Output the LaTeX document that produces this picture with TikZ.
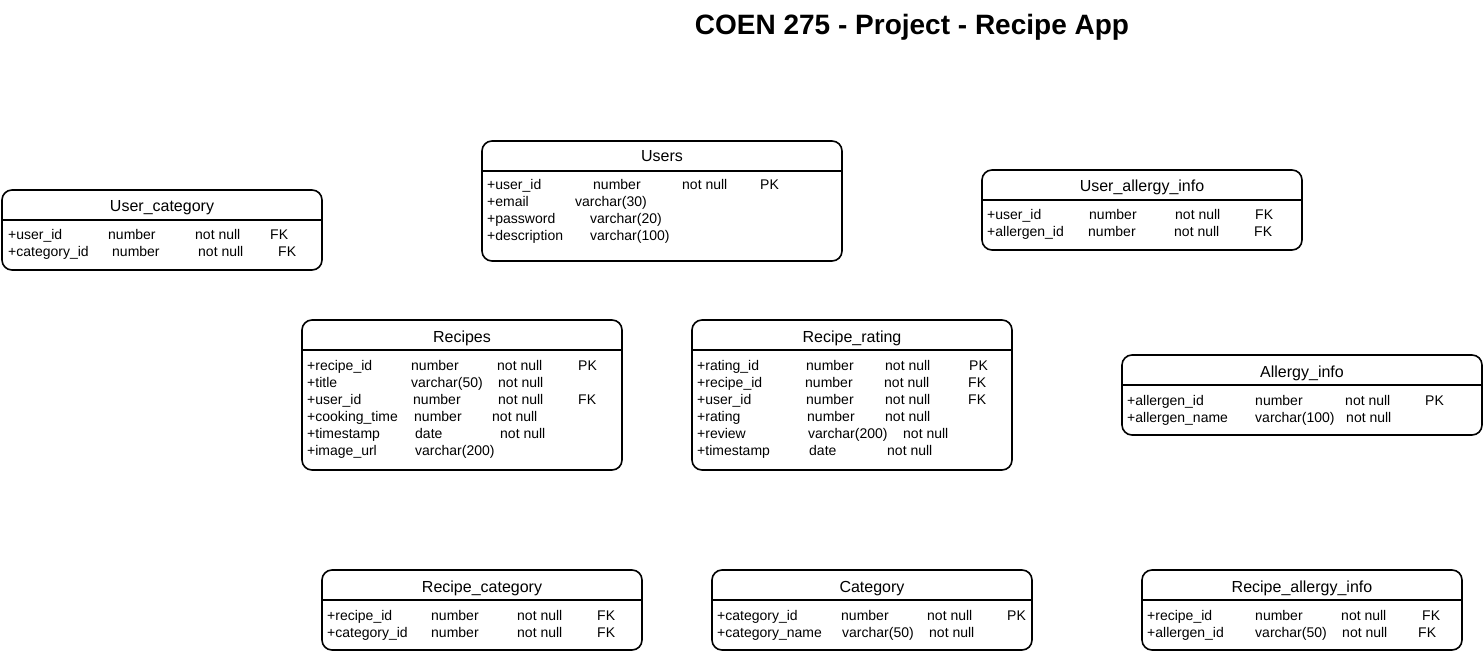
\documentclass[tikz,border=0pt]{standalone}
\usepackage{fontspec}
\setmainfont{Liberation Sans}
\begin{document}
\begin{tikzpicture}[x=1pt,y=-1pt,
  erbox/.style={draw=black, line width=1.6pt, rounded corners=10pt, anchor=north west, inner sep=0pt, outer sep=0pt},
  ertitle/.style={anchor=base, inner sep=0pt, font=\fontsize{16}{19}\selectfont},
  ercell/.style={anchor=base west, inner sep=0pt, font=\fontsize{14}{17}\selectfont},
  erline/.style={line width=1.2pt}]
\useasboundingbox (0,0) rectangle (1483,652);
% heading
\node[anchor=base, inner sep=0pt, font=\fontsize{28}{32}\selectfont\bfseries] (heading) at (912,35) {COEN 275 - Project - Recipe App};
% User_category
\node[erbox, minimum width=320, minimum height=80] (usercat) at (2,190) {};
\draw[erline] ([yshift=-30pt]usercat.north west) -- ([yshift=-30pt]usercat.north east);
\node[ertitle] (usercat-title) at (162,212) {User\_category};
\foreach \cx/\cy/\txt [count=\i] in {8/240/+user\_id, 108/240/number, 195/240/not null, 270/240/FK,
  8/257/+category\_id, 112/257/number, 198/257/not null, 278/257/FK}
  \node[ercell] (usercat-\i) at (\cx,\cy) {\txt};
% Users
\node[erbox, minimum width=360, minimum height=120] (users) at (482,141) {};
\draw[erline] ([yshift=-30pt]users.north west) -- ([yshift=-30pt]users.north east);
\node[ertitle] (users-title) at (662,162) {Users};
\foreach \cx/\cy/\txt [count=\i] in {487/190/+user\_id, 593/190/number, 682/190/not null, 760/190/PK,
  487/207/+email, 575/207/varchar(30),
  487/224/+password, 590/224/varchar(20),
  487/241/+description, 590/241/varchar(100)}
  \node[ercell] (users-\i) at (\cx,\cy) {\txt};
% User_allergy_info
\node[erbox, minimum width=320, minimum height=80] (userall) at (982,170) {};
\draw[erline] ([yshift=-30pt]userall.north west) -- ([yshift=-30pt]userall.north east);
\node[ertitle] (userall-title) at (1142,192) {User\_allergy\_info};
\foreach \cx/\cy/\txt [count=\i] in {987/220/+user\_id, 1089/220/number, 1175/220/not null, 1255/220/FK,
  987/237/+allergen\_id, 1088/237/number, 1174/237/not null, 1254/237/FK}
  \node[ercell] (userall-\i) at (\cx,\cy) {\txt};
% Recipes
\node[erbox, minimum width=320, minimum height=150] (recipes) at (302,320) {};
\draw[erline] ([yshift=-30pt]recipes.north west) -- ([yshift=-30pt]recipes.north east);
\node[ertitle] (recipes-title) at (462,342) {Recipes};
\foreach \cx/\cy/\txt [count=\i] in {307/370/+recipe\_id, 411/370/number, 497/370/not null, 578/370/PK,
  307/387/+title, 411/387/varchar(50), 498/387/not null,
  307/404/+user\_id, 413/404/number, 498/404/not null, 578/404/FK,
  307/421/+cooking\_time, 414/421/number, 492/421/not null,
  307/438/+timestamp, 415/438/date, 500/438/not null,
  307/455/+image\_url, 415/455/varchar(200)}
  \node[ercell] (recipes-\i) at (\cx,\cy) {\txt};
% Recipe_rating
\node[erbox, minimum width=320, minimum height=150] (rating) at (692,320) {};
\draw[erline] ([yshift=-30pt]rating.north west) -- ([yshift=-30pt]rating.north east);
\node[ertitle] (rating-title) at (852,342) {Recipe\_rating};
\foreach \cx/\cy/\txt [count=\i] in {697/370/+rating\_id, 806/370/number, 885/370/not null, 969/370/PK,
  697/387/+recipe\_id, 805/387/number, 884/387/not null, 968/387/FK,
  697/404/+user\_id, 806/404/number, 885/404/not null, 968/404/FK,
  697/421/+rating, 807/421/number, 885/421/not null,
  697/438/+review, 808/438/varchar(200), 903/438/not null,
  697/455/+timestamp, 809/455/date, 887/455/not null}
  \node[ercell] (rating-\i) at (\cx,\cy) {\txt};
% Allergy_info
\node[erbox, minimum width=360, minimum height=80] (allergy) at (1122,355) {};
\draw[erline] ([yshift=-30pt]allergy.north west) -- ([yshift=-30pt]allergy.north east);
\node[ertitle] (allergy-title) at (1302,377) {Allergy\_info};
\foreach \cx/\cy/\txt [count=\i] in {1127/405/+allergen\_id, 1255/405/number, 1345/405/not null, 1425/405/PK,
  1127/422/+allergen\_name, 1255/422/varchar(100), 1346/422/not null}
  \node[ercell] (allergy-\i) at (\cx,\cy) {\txt};
% Recipe_category
\node[erbox, minimum width=320, minimum height=80] (recipecat) at (322,570) {};
\draw[erline] ([yshift=-30pt]recipecat.north west) -- ([yshift=-30pt]recipecat.north east);
\node[ertitle] (recipecat-title) at (482,592) {Recipe\_category};
\foreach \cx/\cy/\txt [count=\i] in {327/620/+recipe\_id, 431/620/number, 517/620/not null, 597/620/FK,
  327/637/+category\_id, 431/637/number, 517/637/not null, 597/637/FK}
  \node[ercell] (recipecat-\i) at (\cx,\cy) {\txt};
% Category
\node[erbox, minimum width=320, minimum height=80] (category) at (712,570) {};
\draw[erline] ([yshift=-30pt]category.north west) -- ([yshift=-30pt]category.north east);
\node[ertitle] (category-title) at (872,592) {Category};
\foreach \cx/\cy/\txt [count=\i] in {717/620/+category\_id, 841/620/number, 927/620/not null, 1007/620/PK,
  717/637/+category\_name, 842/637/varchar(50), 929/637/not null}
  \node[ercell] (category-\i) at (\cx,\cy) {\txt};
% Recipe_allergy_info
\node[erbox, minimum width=320, minimum height=80] (recipeall) at (1142,570) {};
\draw[erline] ([yshift=-30pt]recipeall.north west) -- ([yshift=-30pt]recipeall.north east);
\node[ertitle] (recipeall-title) at (1302,592) {Recipe\_allergy\_info};
\foreach \cx/\cy/\txt [count=\i] in {1147/620/+recipe\_id, 1255/620/number, 1341/620/not null, 1422/620/FK,
  1147/637/+allergen\_id, 1255/637/varchar(50), 1342/637/not null, 1418/637/FK}
  \node[ercell] (recipeall-\i) at (\cx,\cy) {\txt};
\end{tikzpicture}
\end{document}
